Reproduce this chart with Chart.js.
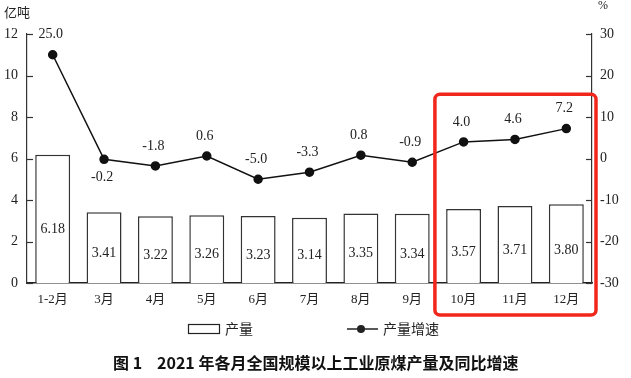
<!DOCTYPE html>
<html>
<head>
<meta charset="utf-8">
<script src="https://cdn.jsdelivr.net/npm/chart.js@4/dist/chart.umd.min.js"></script>
<style>
  html, body { margin: 0; padding: 0; background: #fff; }
  #wrap { width: 631px; height: 378px; }
</style>
</head>
<body>
<div id="wrap"><canvas id="c" width="631" height="378"></canvas></div>
<script>
// 月份
const months = ["1-2月", "3月", "4月", "5月", "6月", "7月", "8月", "9月", "10月", "11月", "12月"];
// 产量（亿吨）
const output = [6.18, 3.41, 3.22, 3.26, 3.23, 3.14, 3.35, 3.34, 3.57, 3.71, 3.80];
// 产量增速（%）
const growth = [25.0, -0.2, -1.8, 0.6, -5.0, -3.3, 0.8, -0.9, 4.0, 4.6, 7.2];
// 增速标签放在点下方的月份
const labelBelow = ["3月"];
// 红框圈出的月份
const highlighted = ["10月", "11月", "12月"];

const serif = "'Liberation Serif', 'Noto Sans CJK SC', serif";
const textColor = "#222";

// 刻度线朝内画、数据标签、红框、图例和标题
const decorPlugin = {
  id: "decor",
  afterDraw(chart) {
    const { ctx, chartArea } = chart;
    const x = chart.scales.x;
    const yL = chart.scales.y;
    const yR = chart.scales.y1;
    ctx.save();

    // 内向刻度
    ctx.strokeStyle = "#333";
    ctx.lineWidth = 1.2;
    yL.ticks.forEach((t) => {
      const py = Math.round(yL.getPixelForValue(t.value)) + 0.5;
      ctx.beginPath();
      ctx.moveTo(chartArea.left, py);
      ctx.lineTo(chartArea.left + 6, py);
      ctx.stroke();
    });
    yR.ticks.forEach((t) => {
      const py = Math.round(yR.getPixelForValue(t.value)) + 0.5;
      ctx.beginPath();
      ctx.moveTo(chartArea.right, py);
      ctx.lineTo(chartArea.right - 6, py);
      ctx.stroke();
    });

    // 柱内数值
    ctx.fillStyle = textColor;
    ctx.font = "14px " + serif;
    ctx.textAlign = "center";
    ctx.textBaseline = "middle";
    const base = yL.getPixelForValue(0);
    output.forEach((v, i) => {
      const px = x.getPixelForValue(i);
      const top = yL.getPixelForValue(v);
      ctx.fillText(v.toFixed(2), px, base - (base - top) * 0.42);
    });

    // 增速数值
    growth.forEach((v, i) => {
      const px = x.getPixelForValue(i);
      const py = yR.getPixelForValue(v);
      const below = labelBelow.includes(months[i]);
      ctx.fillText(v.toFixed(1), px - 2, below ? py + 18 : py - 20);
    });

    // 红框
    const step = x.getPixelForValue(1) - x.getPixelForValue(0);
    const first = months.indexOf(highlighted[0]);
    const last = months.indexOf(highlighted[highlighted.length - 1]);
    const rx0 = x.getPixelForValue(first) - step / 2 - 3;
    const rx1 = x.getPixelForValue(last) + step / 2 + 4;
    const ry0 = yR.getPixelForValue(15.5);
    const ry1 = chartArea.bottom + 32;
    ctx.strokeStyle = "#f2271c";
    ctx.lineWidth = 3.5;
    ctx.beginPath();
    ctx.roundRect(rx0, ry0, rx1 - rx0, ry1 - ry0, 5);
    ctx.stroke();

    // 图例
    const ly = chartArea.bottom + 46;
    ctx.strokeStyle = "#222";
    ctx.lineWidth = 1.2;
    ctx.strokeRect(188.5, ly - 4.5, 31, 9);
    ctx.fillStyle = textColor;
    ctx.font = "14px 'Noto Sans CJK SC', sans-serif";
    ctx.textAlign = "left";
    ctx.fillText("产量", 225, ly);
    ctx.lineWidth = 1.5;
    ctx.beginPath();
    ctx.moveTo(347, ly);
    ctx.lineTo(378, ly);
    ctx.stroke();
    ctx.beginPath();
    ctx.arc(361, ly, 4, 0, Math.PI * 2);
    ctx.fill();
    ctx.fillText("产量增速", 383, ly);

    // 标题
    const ty = chartArea.bottom + 80;
    ctx.font = "bold 16px 'Noto Sans CJK SC', sans-serif";
    ctx.fillStyle = "#111";
    ctx.fillText("图 1", 113, ty);
    ctx.fillText("2021 年各月全国规模以上工业原煤产量及同比增速", 157, ty);

    // 单位
    ctx.font = "13px 'Noto Sans CJK SC', sans-serif";
    ctx.fillStyle = textColor;
    ctx.fillText("亿吨", 4, 12);
    ctx.font = "12px " + serif;
    ctx.fillText("%", 598, 6);
    ctx.restore();
  },
};

new Chart(document.getElementById("c"), {
  data: {
    labels: months,
    datasets: [
      {
        type: "line",
        label: "产量增速",
        data: growth,
        yAxisID: "y1",
        borderColor: "#111",
        backgroundColor: "#111",
        borderWidth: 1.5,
        pointRadius: 4,
        pointBackgroundColor: "#111",
        tension: 0,
        order: 0,
      },
      {
        type: "bar",
        label: "产量",
        data: output,
        yAxisID: "y",
        backgroundColor: "#fff",
        borderColor: "#333",
        borderWidth: 1.5,
        categoryPercentage: 0.68,
        barPercentage: 1.0,
        order: 1,
      },
    ],
  },
  options: {
    responsive: false,
    animation: false,
    devicePixelRatio: 1,
    layout: { padding: { top: 34, bottom: 65, left: 0, right: 0 } },
    plugins: {
      legend: { display: false },
      tooltip: { enabled: false },
    },
    scales: {
      x: {
        grid: { display: false, drawTicks: false },
        border: { color: "#222", width: 1.5 },
        ticks: { color: textColor, font: { family: serif, size: 13 }, padding: 9 },
        afterFit(scale) { scale.height = 30; },
      },
      y: {
        position: "left",
        min: 0,
        max: 12,
        grid: { display: false, drawTicks: false },
        border: { color: "#333", width: 1.2 },
        ticks: { stepSize: 2, color: textColor, font: { family: serif, size: 14 }, padding: 9 },
        afterFit(scale) { scale.width = 27; },
      },
      y1: {
        position: "right",
        min: -30,
        max: 30,
        grid: { display: false, drawTicks: false },
        border: { color: "#333", width: 1.2 },
        ticks: { stepSize: 10, color: textColor, font: { family: serif, size: 14 }, padding: 8 },
        afterFit(scale) { scale.width = 39; },
      },
    },
  },
  plugins: [decorPlugin],
});
</script>
</body>
</html>
